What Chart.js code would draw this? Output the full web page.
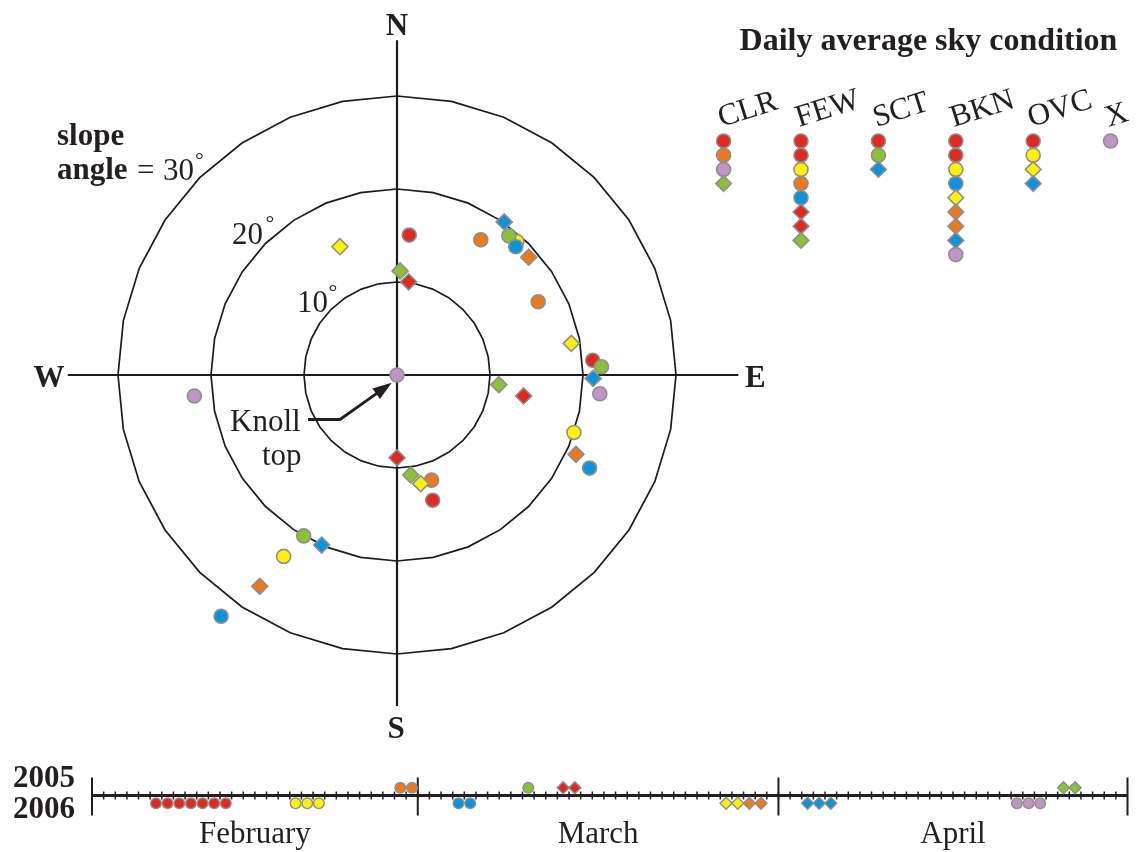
<!DOCTYPE html>
<html lang="en">
<head>
<meta charset="utf-8">
<title>Slope aspect, slope angle and daily sky condition</title>
<script src="https://cdn.jsdelivr.net/npm/chart.js@4.4.1/dist/chart.umd.min.js"></script>
<style>
  html, body { margin: 0; padding: 0; background: #ffffff; }
  body { position: relative; width: 1136px; height: 852px; overflow: hidden; }
  canvas { position: absolute; display: block; }
  #polar { left: 0; top: 0; }
  #sky { left: 700px; top: 0; }
  #calendar { left: 0; top: 760px; }
</style>
</head>
<body>
<canvas id="polar" width="794" height="750"></canvas>
<canvas id="sky" width="436" height="270"></canvas>
<canvas id="calendar" width="1136" height="92"></canvas>
<script>
// ---------------------------------------------------------------
// Data
// ---------------------------------------------------------------

// Sampling windows, each identified by its first day
const periodIds = ['2006-02-06', '2006-02-18', '2005-02-27', '2006-03-04', '2005-03-10',
                   '2005-03-13', '2006-03-27', '2006-03-29', '2006-04-03', '2006-04-21', '2005-04-25'];

// Sites: slope aspect (degrees clockwise from north), slope angle (degrees), sampling window
const siteAspect = [0, 5.0, 7.1, 1.7, 336.0, 31.8, 41.9, 48.2, 38.8, 42.8, 35.0,
                    62.6, 79.7, 85.7, 87.7, 91.0, 95.3, 95.4, 99.4, 108.0, 113.9, 115.8,
                    180.0, 172.2, 161.8, 167.7, 164.1, 210.1, 203.9, 212.0, 213.0, 216.1, 264.1];
const siteSlope  = [0, 15.1, 10.1, 11.2, 15.1, 17.1, 19.3, 19.0, 19.2, 18.8, 20.1,
                    17.1, 19.05, 21.1, 22.0, 21.1, 21.9, 11.0, 13.8, 20.0, 21.05, 23.0,
                    8.9, 10.85, 11.9, 11.96, 14.0, 20.0, 20.0, 23.0, 27.1, 32.1, 21.9];
const sitePeriod = ['2006-04-21', '2006-02-06', '2005-03-13', '2005-04-25', '2006-03-27',
                    '2005-02-27', '2006-02-18', '2006-03-29', '2005-03-10', '2006-03-04', '2006-04-03',
                    '2005-02-27', '2006-03-27', '2006-02-06', '2005-03-10', '2006-04-03', '2006-04-21',
                    '2005-04-25', '2005-03-13', '2006-02-18', '2006-03-29', '2006-03-04',
                    '2005-03-13', '2005-04-25', '2005-02-27', '2006-03-27', '2006-02-06',
                    '2005-03-10', '2006-04-03', '2006-02-18', '2006-03-29', '2006-03-04', '2006-04-21'];

// Slope-angle rings (degrees)
const ringSlopes = [10, 20, 30];

// Daily average sky condition: the sampling window of every day in each class
const skyConditions = ['CLR', 'FEW', 'SCT', 'BKN', 'OVC', 'X'];
const clrDays = ['2006-02-06', '2005-02-27', '2006-04-21', '2005-04-25'];
const fewDays = ['2006-02-06', '2006-02-06', '2006-02-18', '2005-02-27', '2006-03-04',
                 '2005-03-13', '2005-03-13', '2005-04-25'];
const sctDays = ['2006-02-06', '2005-03-10', '2006-04-03'];
const bknDays = ['2006-02-06', '2006-02-06', '2006-02-18', '2006-03-04', '2006-03-27',
                 '2006-03-29', '2006-03-29', '2006-04-03', '2006-04-21'];
const ovcDays = ['2006-02-06', '2006-02-18', '2006-03-27', '2006-04-03'];
const xDays   = ['2006-04-21'];

// Calendar of sampled days and their windows
const obsDate = ['2006-02-06', '2006-02-07', '2006-02-08', '2006-02-09', '2006-02-10', '2006-02-11', '2006-02-12',
                 '2006-02-18', '2006-02-19', '2006-02-20',
                 '2005-02-27', '2005-02-28',
                 '2006-03-04', '2006-03-05',
                 '2005-03-10',
                 '2005-03-13', '2005-03-14',
                 '2006-03-27', '2006-03-28', '2006-03-29', '2006-03-30',
                 '2006-04-03', '2006-04-04', '2006-04-05',
                 '2006-04-21', '2006-04-22', '2006-04-23',
                 '2005-04-25', '2005-04-26'];
const obsPeriod = ['2006-02-06', '2006-02-06', '2006-02-06', '2006-02-06', '2006-02-06', '2006-02-06', '2006-02-06',
                   '2006-02-18', '2006-02-18', '2006-02-18',
                   '2005-02-27', '2005-02-27',
                   '2006-03-04', '2006-03-04',
                   '2005-03-10',
                   '2005-03-13', '2005-03-13',
                   '2006-03-27', '2006-03-27', '2006-03-29', '2006-03-29',
                   '2006-04-03', '2006-04-03', '2006-04-03',
                   '2006-04-21', '2006-04-21', '2006-04-21',
                   '2005-04-25', '2005-04-25'];
const yearLabels = ['2005', '2006'];
const monthLabels = ['February', 'March', 'April'];
const monthLengths = [28, 31, 30];

// ---------------------------------------------------------------
// Styles
// ---------------------------------------------------------------
const RED = '#de2a1f', ORANGE = '#eb791d', YELLOW = '#fff200',
      GREEN = '#8bc134', BLUE = '#0b93dc', PURPLE = '#be95c4';
const periodStyle = {
  '2006-02-06': { color: RED,    shape: 'circle' },
  '2006-02-18': { color: YELLOW, shape: 'circle' },
  '2005-02-27': { color: ORANGE, shape: 'circle' },
  '2006-03-04': { color: BLUE,   shape: 'circle' },
  '2005-03-10': { color: GREEN,  shape: 'circle' },
  '2005-03-13': { color: RED,    shape: 'rectRot' },
  '2006-03-27': { color: YELLOW, shape: 'rectRot' },
  '2006-03-29': { color: ORANGE, shape: 'rectRot' },
  '2006-04-03': { color: BLUE,   shape: 'rectRot' },
  '2006-04-21': { color: PURPLE, shape: 'circle' },
  '2005-04-25': { color: GREEN,  shape: 'rectRot' }
};
const MARK_EDGE = '#8e8e8e';
const INK = '#231f20';
const SERIF = '"Liberation Serif", "Times New Roman", serif';
const DEG = Math.PI / 180;

// Scatter dataset whose points take colour and shape from their sampling window
function periodDataset(points, periods, circleRadius, diamondRadius, edgeWidth) {
  return {
    data: points,
    clip: false,
    showLine: false,
    pointStyle: c => periodStyle[periods[c.dataIndex]].shape,
    backgroundColor: c => periodStyle[periods[c.dataIndex]].color,
    borderColor: MARK_EDGE,
    borderWidth: edgeWidth,
    pointBorderWidth: edgeWidth,
    pointRadius: c => periodStyle[periods[c.dataIndex]].shape === 'circle' ? circleRadius : diamondRadius
  };
}

const staticOptions = {
  responsive: false,
  animation: false,
  events: [],
  plugins: { legend: { display: false }, tooltip: { enabled: false }, title: { display: false } }
};

// ---------------------------------------------------------------
// Polar plot of slope aspect and slope angle
// ---------------------------------------------------------------
const PX_PER_DEGREE = 9.3;
const polarCanvas = document.getElementById('polar');
const halfX = polarCanvas.width / 2 / PX_PER_DEGREE;
const halfY = polarCanvas.height / 2 / PX_PER_DEGREE;

const sitePoints = siteAspect.map((a, i) => ({
  x: siteSlope[i] * Math.sin(a * DEG),
  y: siteSlope[i] * Math.cos(a * DEG)
}));

function degreeText(ctx, number, left, baseline, ringX, ringY) {
  ctx.font = '31px ' + SERIF;
  ctx.textAlign = 'left';
  ctx.fillText(number, left, baseline);
  ctx.font = '22px ' + SERIF;
  ctx.textAlign = 'center';
  ctx.fillText('\u00B0', ringX, ringY + 11);
}

const compassPlugin = {
  id: 'compass',
  beforeDatasetsDraw(chart) {
    const { ctx } = chart;
    const sx = chart.scales.x, sy = chart.scales.y;
    const px = v => sx.getPixelForValue(v), py = v => sy.getPixelForValue(v);
    ctx.save();
    ctx.strokeStyle = '#1c1a1a';
    ctx.lineJoin = 'miter';
    ctx.lineWidth = 1.7;
    // rings drawn as 32-sided polygons
    for (const r of ringSlopes) {
      ctx.beginPath();
      for (let k = 0; k < 32; k++) {
        const t = k * (360 / 32) * DEG;
        const X = px(r * Math.sin(t)), Y = py(r * Math.cos(t));
        if (k === 0) ctx.moveTo(X, Y); else ctx.lineTo(X, Y);
      }
      ctx.closePath();
      ctx.stroke();
    }
    // compass cross
    ctx.lineWidth = 2.2;
    ctx.beginPath();
    ctx.moveTo(px(-35.4), py(0)); ctx.lineTo(px(36.7), py(0));
    ctx.moveTo(px(0), py(36.0));  ctx.lineTo(px(0), py(-35.6));
    ctx.stroke();

    // arrow pointing at the knoll top
    const cx = px(0), cy = py(0);
    const tip = { x: cx - 5.3, y: cy + 7.7 };
    const elbow = { x: 340, y: 419.5 };
    const start = { x: 308, y: 419.5 };
    const dx = tip.x - elbow.x, dy = tip.y - elbow.y;
    const len = Math.hypot(dx, dy), ux = dx / len, uy = dy / len;
    const headLen = 19, headHalf = 6.5;
    const base = { x: tip.x - ux * headLen, y: tip.y - uy * headLen };
    ctx.strokeStyle = INK;
    ctx.fillStyle = INK;
    ctx.lineWidth = 2.8;
    ctx.beginPath();
    ctx.moveTo(start.x, start.y);
    ctx.lineTo(elbow.x, elbow.y);
    ctx.lineTo(base.x + ux * 2, base.y + uy * 2);
    ctx.stroke();
    ctx.beginPath();
    ctx.moveTo(tip.x, tip.y);
    ctx.lineTo(base.x - uy * headHalf, base.y + ux * headHalf);
    ctx.lineTo(base.x + uy * headHalf, base.y - ux * headHalf);
    ctx.closePath();
    ctx.fill();
    ctx.restore();
  },
  afterDraw(chart) {
    const { ctx } = chart;
    const cx = chart.scales.x.getPixelForValue(0);
    ctx.save();
    ctx.fillStyle = INK;
    ctx.textBaseline = 'alphabetic';
    // compass points
    ctx.font = 'bold 31px ' + SERIF;
    ctx.textAlign = 'center';
    ctx.fillText('N', cx, 35);
    ctx.fillText('S', cx - 1, 738);
    ctx.fillText('W', 49, 387);
    ctx.textAlign = 'left';
    ctx.fillText('E', 745, 387);
    // slope angle key
    ctx.fillText('slope', 57, 145);
    ctx.fillText('angle', 57, 179);
    ctx.font = '31px ' + SERIF;
    ctx.fillText('=', 137, 180);
    degreeText(ctx, '30', 163, 180, 199.5, 156);
    degreeText(ctx, '20', 232, 244, 270, 219);
    degreeText(ctx, '10', 297, 312, 333, 287.5);
    // knoll label
    ctx.font = '31px ' + SERIF;
    ctx.textAlign = 'left';
    ctx.fillText('Knoll', 230, 431);
    ctx.fillText('top', 262, 465);
    ctx.restore();
  }
};

new Chart(polarCanvas, {
  type: 'scatter',
  data: { datasets: [periodDataset(sitePoints, sitePeriod, 7, 8, 1.6)] },
  options: {
    ...staticOptions,
    layout: { padding: 0, autoPadding: false },
    scales: {
      x: { type: 'linear', display: false, min: -halfX, max: halfX },
      y: { type: 'linear', display: false, min: -halfY, max: halfY }
    }
  },
  plugins: [compassPlugin]
});

// ---------------------------------------------------------------
// Daily average sky condition key
// ---------------------------------------------------------------
const skyColumns = [clrDays, fewDays, sctDays, bknDays, ovcDays, xDays];
const skyPoints = [], skyPeriods = [];
skyColumns.forEach((days, col) => {
  days.forEach((p, row) => { skyPoints.push({ x: col, y: row }); skyPeriods.push(p); });
});

const skyPlugin = {
  id: 'skyLabels',
  afterDraw(chart) {
    const { ctx } = chart;
    const sx = chart.scales.x;
    ctx.save();
    ctx.fillStyle = INK;
    ctx.font = 'bold 32px ' + SERIF;
    ctx.textAlign = 'center';
    ctx.fillText('Daily average sky condition', 228.5, 50);
    ctx.font = '31px ' + SERIF;
    ctx.textAlign = 'left';
    skyConditions.forEach((name, i) => {
      ctx.save();
      ctx.translate(sx.getPixelForValue(i) - 2, 127);
      ctx.rotate(-17.5 * DEG);
      ctx.fillText(name, 0, 0);
      ctx.restore();
    });
    ctx.restore();
  }
};

new Chart(document.getElementById('sky'), {
  type: 'scatter',
  data: { datasets: [periodDataset(skyPoints, skyPeriods, 7, 7.8, 1.6)] },
  options: {
    ...staticOptions,
    layout: { padding: { left: 23.6, right: 25.4, top: 141, bottom: 15.4 }, autoPadding: false },
    scales: {
      x: { type: 'linear', display: false, min: 0, max: 5 },
      y: { type: 'linear', display: false, min: 0, max: 8, reverse: true }
    }
  },
  plugins: [skyPlugin]
});

// ---------------------------------------------------------------
// Calendar of sampled days (2005 above the line, 2006 below)
// ---------------------------------------------------------------
const monthStarts = monthLengths.map((_, i) => monthLengths.slice(0, i).reduce((a, b) => a + b, 0));
const totalDays = monthLengths.reduce((a, b) => a + b, 0);
const calendarPoints = obsDate.map(d => {
  const [year, month, day] = d.split('-').map(Number);
  return { x: monthStarts[month - 2] + day - 0.5, y: String(year) === yearLabels[0] ? 1 : -1 };
});

const calendarPlugin = {
  id: 'calendarAxis',
  beforeDatasetsDraw(chart) {
    const { ctx } = chart;
    const sx = chart.scales.x, sy = chart.scales.y;
    const y0 = sy.getPixelForValue(0);
    ctx.save();
    ctx.strokeStyle = INK;
    ctx.lineWidth = 3;
    ctx.beginPath();
    ctx.moveTo(sx.getPixelForValue(0), y0);
    ctx.lineTo(sx.getPixelForValue(totalDays), y0);
    ctx.stroke();
    ctx.lineWidth = 1.5;
    ctx.beginPath();
    for (let d = 1; d < totalDays; d++) {
      const X = sx.getPixelForValue(d);
      ctx.moveTo(X, y0 - 4); ctx.lineTo(X, y0 + 4);
    }
    ctx.stroke();
    ctx.lineWidth = 2;
    ctx.beginPath();
    [...monthStarts, totalDays].forEach(d => {
      const X = sx.getPixelForValue(d);
      ctx.moveTo(X, y0 - 18); ctx.lineTo(X, y0 + 20);
    });
    ctx.stroke();
    ctx.restore();
  },
  afterDraw(chart) {
    const { ctx } = chart;
    const sx = chart.scales.x;
    ctx.save();
    ctx.fillStyle = INK;
    ctx.font = 'bold 31px ' + SERIF;
    ctx.textAlign = 'right';
    ctx.fillText(yearLabels[0], 75, 27);
    ctx.fillText(yearLabels[1], 75, 58);
    ctx.font = '31px ' + SERIF;
    ctx.textAlign = 'center';
    monthLabels.forEach((m, i) => {
      ctx.fillText(m, sx.getPixelForValue(monthStarts[i] + monthLengths[i] / 2), 83);
    });
    ctx.restore();
  }
};

new Chart(document.getElementById('calendar'), {
  type: 'scatter',
  data: { datasets: [periodDataset(calendarPoints, obsPeriod, 5.3, 6, 1.4)] },
  options: {
    ...staticOptions,
    layout: { padding: { left: 92, right: 8.5, top: 19.9, bottom: 40.9 }, autoPadding: false },
    scales: {
      x: { type: 'linear', display: false, min: 0, max: totalDays },
      y: { type: 'linear', display: false, min: -2, max: 2 }
    }
  },
  plugins: [calendarPlugin]
});
</script>
</body>
</html>
